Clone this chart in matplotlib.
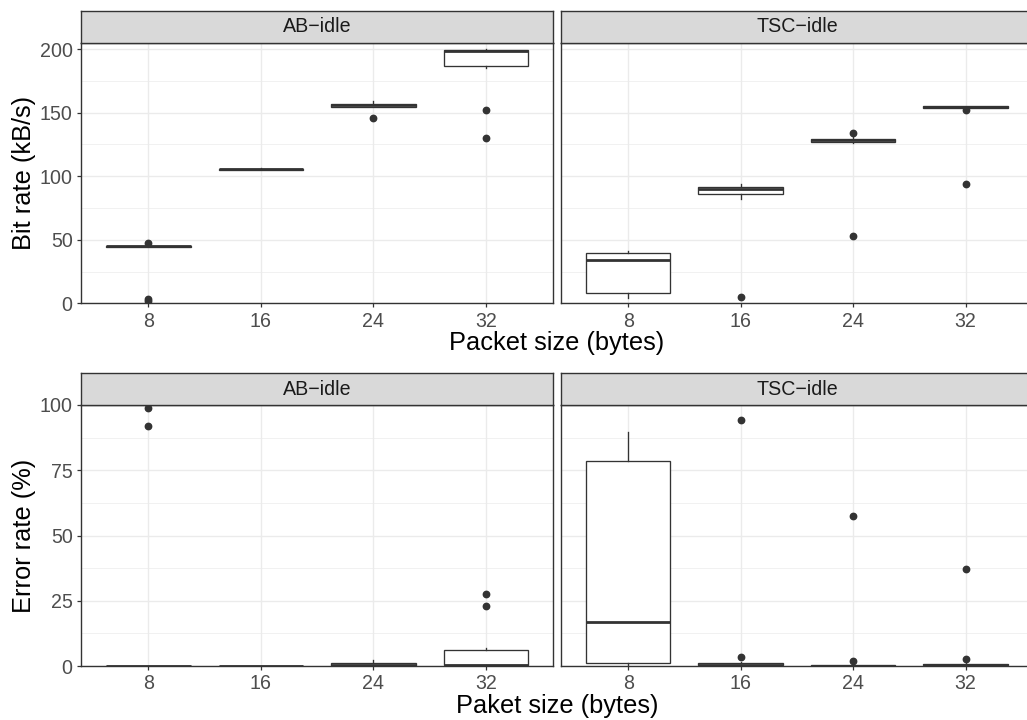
import numpy as np
import matplotlib.pyplot as plt

plt.rcParams['font.family'] = ['Liberation Sans', 'DejaVu Sans']

sizes = ['8', '16', '24', '32']
panels = ['AB\u2212idle', 'TSC\u2212idle']

# bit rate (kB/s) box stats
bit_ab_q1 = [44.6, 105.2, 154.6, 186.4]
bit_ab_med = [45.0, 105.6, 155.8, 198.4]
bit_ab_q3 = [45.3, 106.0, 157.0, 199.6]
bit_ab_lo = [44.6, 105.0, 154.2, 184.8]
bit_ab_hi = [45.5, 106.3, 159.0, 200.0]
bit_ab_out = [[47.5, 3.0, 1.5], [], [145.7], [152.2, 129.7]]

bit_tsc_q1 = [8.3, 86.0, 127.0, 153.8]
bit_tsc_med = [34.0, 89.6, 128.4, 154.4]
bit_tsc_q3 = [39.3, 91.7, 129.6, 155.2]
bit_tsc_lo = [4.4, 81.8, 125.8, 153.5]
bit_tsc_hi = [41.4, 93.8, 132.3, 155.5]
bit_tsc_out = [[], [4.7], [134.2, 53.2], [152.2, 94.0]]

# error rate (%) box stats
err_ab_q1 = [0.0, 0.0, 0.1, 0.2]
err_ab_med = [0.0, 0.0, 0.2, 0.3]
err_ab_q3 = [0.0, 0.0, 1.3, 6.1]
err_ab_lo = [0.0, 0.0, 0.0, 0.0]
err_ab_hi = [0.0, 0.0, 2.3, 6.9]
err_ab_out = [[98.8, 92.1], [], [], [27.5, 23.1]]

err_tsc_q1 = [1.0, 0.2, 0.0, 0.2]
err_tsc_med = [16.8, 0.4, 0.1, 0.5]
err_tsc_q3 = [78.6, 1.3, 0.3, 0.9]
err_tsc_lo = [0.2, 0.0, 0.0, 0.0]
err_tsc_hi = [89.8, 1.6, 0.4, 1.2]
err_tsc_out = [[], [94.4, 3.3], [57.3, 1.8], [37.2, 2.7]]


def make_stats(q1, med, q3, lo, hi, out):
    return [dict(q1=q1[i], med=med[i], q3=q3[i], whislo=lo[i], whishi=hi[i],
                 fliers=out[i], label=sizes[i]) for i in range(len(sizes))]


rows = [
    dict(stats=[make_stats(bit_ab_q1, bit_ab_med, bit_ab_q3, bit_ab_lo, bit_ab_hi, bit_ab_out),
                make_stats(bit_tsc_q1, bit_tsc_med, bit_tsc_q3, bit_tsc_lo, bit_tsc_hi, bit_tsc_out)],
         ylim=(0, 205), major=[0, 50, 100, 150, 200], minor=[25, 75, 125, 175],
         ylabel='Bit rate (kB/s)', xlabel='Packet size (bytes)', top=42.7, bottom=303.3),
    dict(stats=[make_stats(err_ab_q1, err_ab_med, err_ab_q3, err_ab_lo, err_ab_hi, err_ab_out),
                make_stats(err_tsc_q1, err_tsc_med, err_tsc_q3, err_tsc_lo, err_tsc_hi, err_tsc_out)],
         ylim=(0, 100), major=[0, 25, 50, 75, 100], minor=[12.5, 37.5, 62.5, 87.5],
         ylabel='Error rate (%)', xlabel='Paket size (bytes)', top=405.0, bottom=666.0),
]

W, H = 1027, 720
fig = plt.figure(figsize=(W / 100, H / 100), dpi=100)
lefts = [81.0, 560.7]
pw = 472.3
strip_h = 31.7
dark = '#333333'

for row in rows:
    for j, left in enumerate(lefts):
        ax = fig.add_axes([left / W, 1 - row['bottom'] / H, pw / W, (row['bottom'] - row['top']) / H])
        pos = np.arange(1, len(sizes) + 1)
        ax.bxp(row['stats'][j], positions=pos, widths=0.75, showcaps=False,
               patch_artist=True,
               boxprops=dict(facecolor='white', edgecolor=dark, linewidth=0.95),
               whiskerprops=dict(color=dark, linewidth=0.95),
               medianprops=dict(color=dark, linewidth=2.0),
               flierprops=dict(marker='o', markerfacecolor=dark, markeredgecolor=dark,
                               markersize=4.6, linestyle='none'),
               zorder=3)
        ax.set_xlim(0.4, 4.6)
        ax.set_ylim(*row['ylim'])
        ax.set_xticks(pos)
        ax.set_xticklabels(sizes)
        ax.set_yticks(row['major'])
        ax.set_yticks(row['minor'], minor=True)
        ax.grid(True, which='major', color='#EBEBEB', linewidth=1.0, zorder=0)
        ax.grid(True, which='minor', axis='y', color='#EBEBEB', linewidth=0.5, zorder=0)
        ax.set_axisbelow(True)
        for s in ax.spines.values():
            s.set_color(dark)
            s.set_linewidth(1.0)
        ax.tick_params(axis='both', which='major', length=3.0, width=0.9, color=dark,
                       labelcolor='#4D4D4D', labelsize=14.1, pad=3.0)
        ax.tick_params(axis='y', which='minor', length=0)
        if j == 1:
            ax.tick_params(axis='y', which='major', left=False, labelleft=False)

        # facet strip
        sax = fig.add_axes([left / W, 1 - row['top'] / H, pw / W, strip_h / H])
        sax.set_facecolor('#D9D9D9')
        sax.set_xticks([])
        sax.set_yticks([])
        for s in sax.spines.values():
            s.set_color(dark)
            s.set_linewidth(1.0)
        sax.text(0.5, 0.5, panels[j], ha='center', va='center', fontsize=14.1,
                 color='#1A1A1A', transform=sax.transAxes)

    mid = (row['top'] + row['bottom']) / 2
    fig.text(24 / W, 1 - mid / H, row['ylabel'], rotation=90, ha='center', va='center',
             fontsize=18.3, color='black')
    fig.text(556.8 / W, 1 - (row['bottom'] + 39.7) / H, row['xlabel'], ha='center',
             va='center', fontsize=18.3, color='black')

fig.savefig('out.png', dpi=100)
